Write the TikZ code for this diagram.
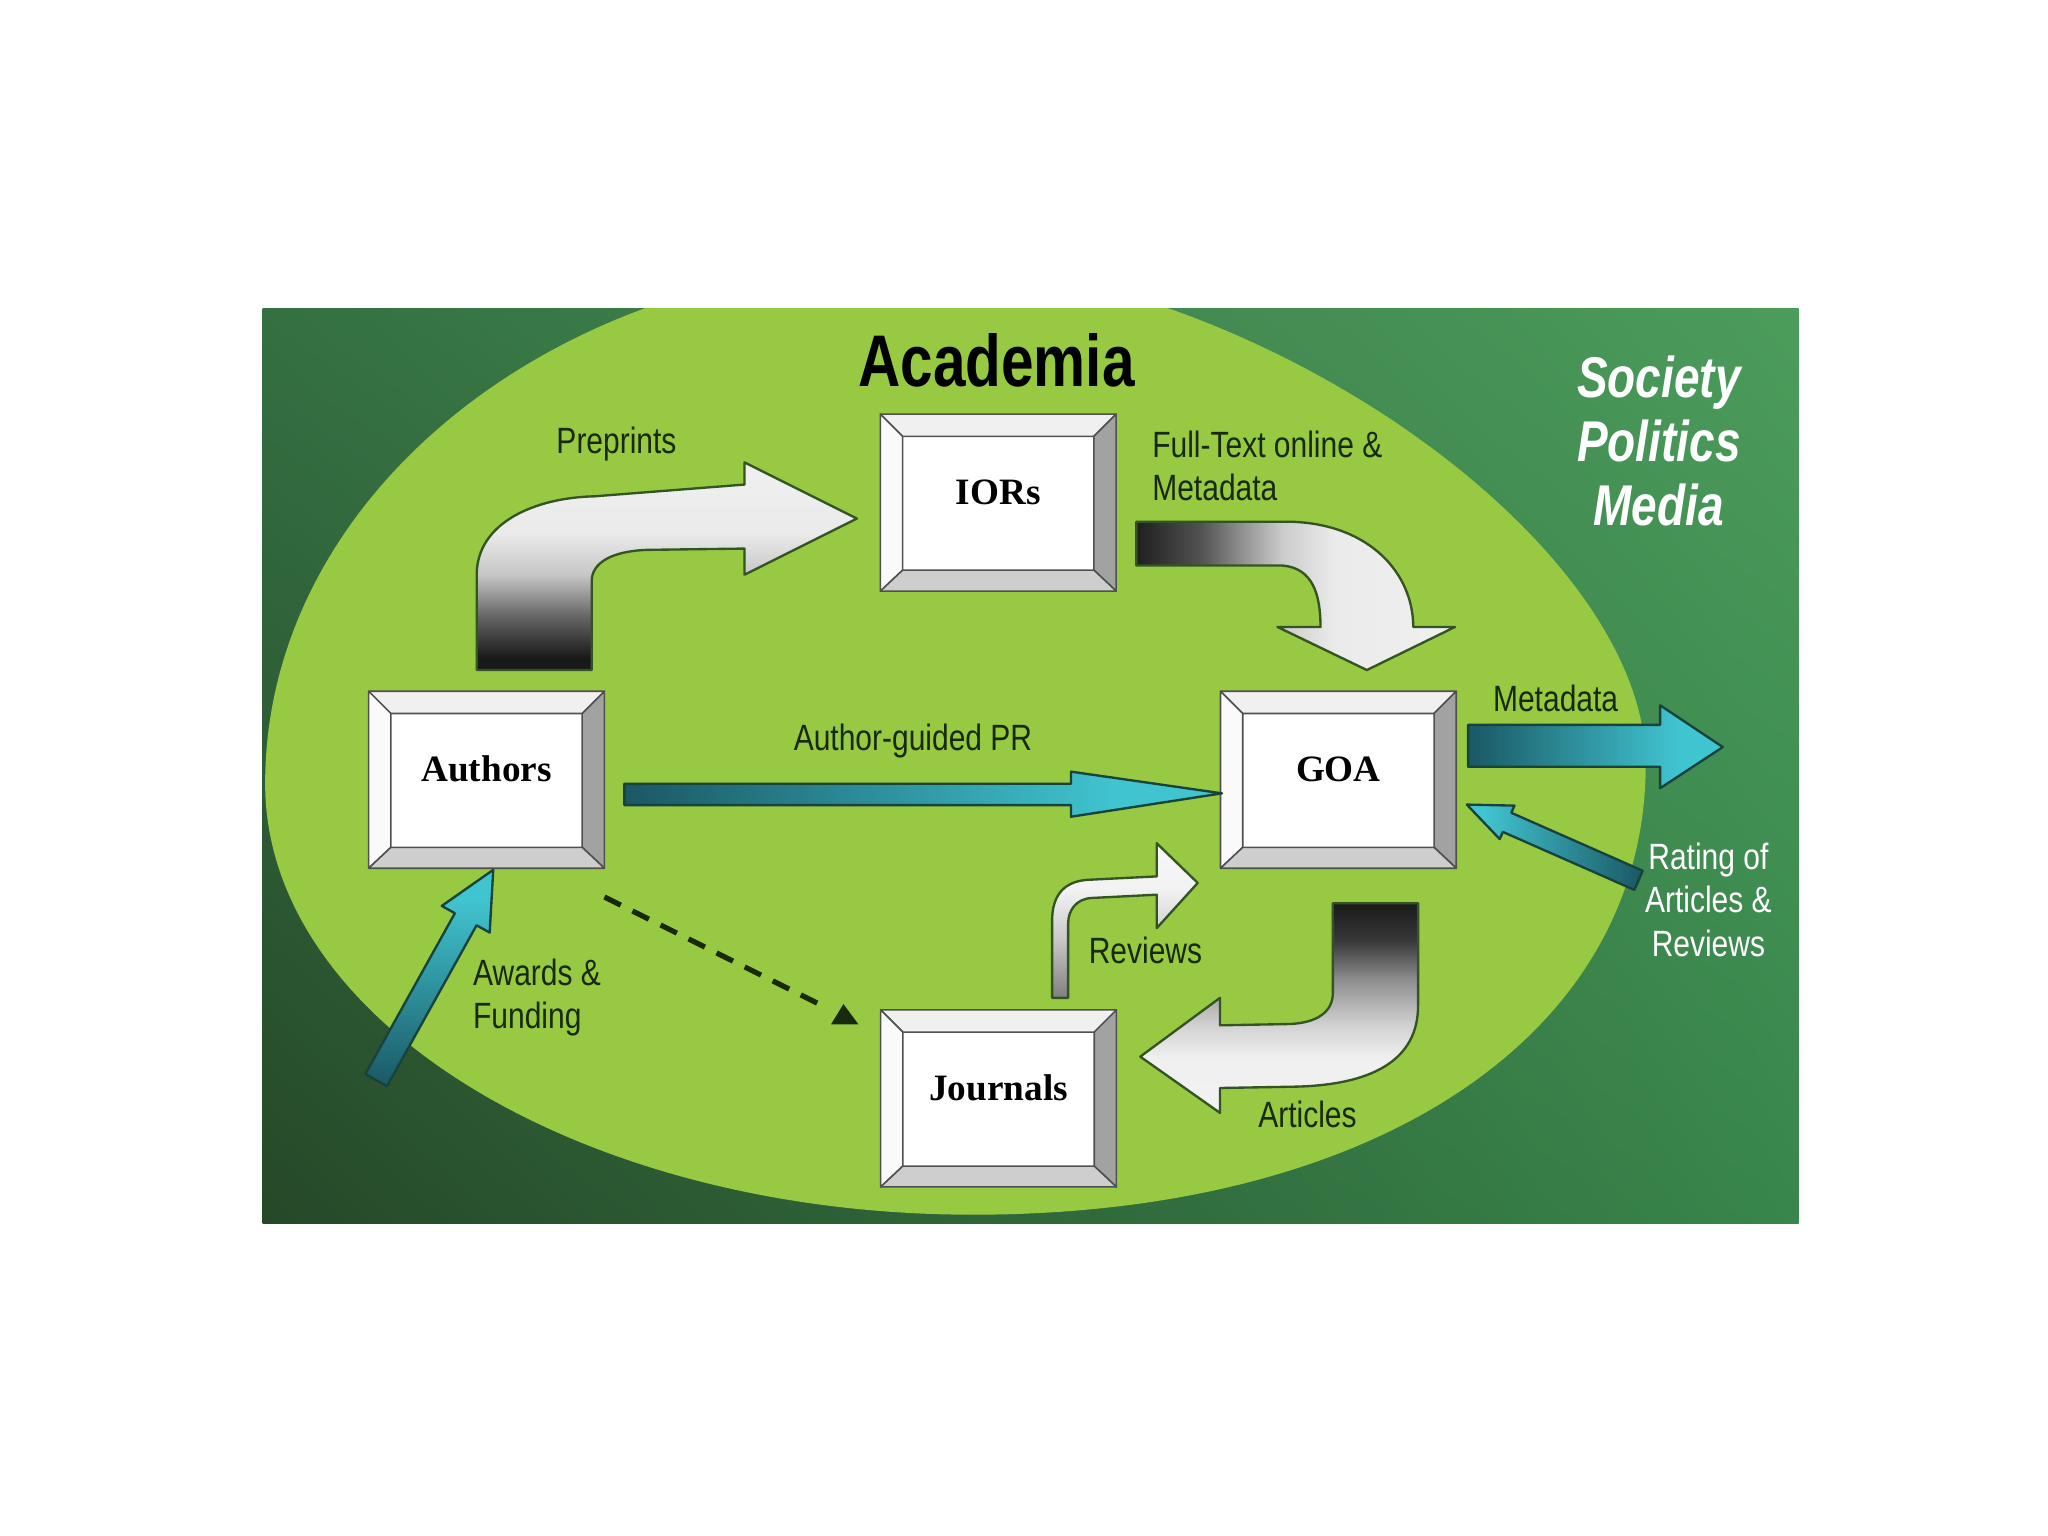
\documentclass[tikz,border=0pt]{standalone}
\usepackage{fontspec}
\setmainfont{Liberation Serif}
\newfontfamily\lblfont[FakeStretch=0.82]{Liberation Sans}
\newfontfamily\headfont[FakeStretch=0.8]{Liberation Sans}
\usetikzlibrary{calc,shadings}

\definecolor{tealdark}{RGB}{26,88,100}
\definecolor{tealcyan}{RGB}{64,196,208}
\definecolor{leafgreen}{RGB}{152,201,66}
\definecolor{lbltext}{RGB}{24,42,14}
\definecolor{edgegreen}{RGB}{52,84,36}
\definecolor{edgegrey}{RGB}{80,80,80}
\definecolor{bgul}{RGB}{52,112,66}
\definecolor{bgur}{RGB}{76,156,92}
\definecolor{bgll}{RGB}{38,72,40}
\definecolor{bglr}{RGB}{56,134,76}

\pgfdeclarehorizontalshading{tealright}{100bp}{color(0bp)=(tealdark); color(25bp)=(tealdark); color(66bp)=(tealcyan); color(100bp)=(tealcyan)}
\pgfdeclarehorizontalshading{tealleft}{100bp}{color(0bp)=(tealcyan); color(30bp)=(tealcyan); color(75bp)=(tealdark); color(100bp)=(tealdark)}
\pgfdeclareverticalshading{tealup}{100bp}{color(0bp)=(tealdark); color(25bp)=(tealdark); color(68bp)=(tealcyan); color(100bp)=(tealcyan)}
\pgfdeclarehorizontalshading{greyright}{100bp}{color(0bp)=(black!90); color(25bp)=(black!88); color(35bp)=(black!68); color(43bp)=(black!38); color(48bp)=(white!80!black); color(56bp)=(white!92!black); color(100bp)=(white!97!black)}
\pgfdeclareverticalshading{greyup}{100bp}{color(0bp)=(black!90); color(28bp)=(black!90); color(38bp)=(black!60); color(48bp)=(white!78!black); color(58bp)=(white!92!black); color(100bp)=(white!97!black)}
\pgfdeclareverticalshading{greydown}{100bp}{color(0bp)=(white!96!black); color(38bp)=(white!94!black); color(46bp)=(white!82!black); color(57bp)=(black!45); color(66bp)=(black!78); color(75bp)=(black!90); color(100bp)=(black!90)}
\pgfdeclareverticalshading{greysoft}{100bp}{color(0bp)=(black!50); color(25bp)=(black!50); color(45bp)=(white!80!black); color(60bp)=(white!95!black); color(100bp)=(white)}

\tikzset{every picture/.style={line width=0.75pt}}
\tikzset{
  bevelbox/.style={draw=edgegrey, fill=white, minimum width=89.5pt, minimum height=67pt, inner sep=0pt,
    font=\bfseries\fontsize{14.25}{16}\selectfont, text height=5pt, text depth=3.6pt},
  bevelfacet/.style={draw=edgegrey, line width=0.6pt, line join=round},
  greyarrow/.style={draw=edgegreen, line width=0.9pt, line join=round},
  tealarrow/.style={draw={rgb,255:red,24;green,66;blue,60}, line width=0.9pt, line join=round},
  lbl/.style={font=\lblfont\fontsize{14}{16.5}\selectfont, text=lbltext, inner sep=0.75pt},
  lblwhite/.style={font=\lblfont\fontsize{14}{16.5}\selectfont, text=white, inner sep=0.75pt},
  dashlink/.style={draw=lbltext, line width=2pt, dash pattern=on 7pt off 5pt}
}

\newcommand{\bevel}[1]{%
  \coordinate (#1-i1) at ($(#1.north west)+(17,17)$);
  \coordinate (#1-i2) at ($(#1.north east)+(-17,17)$);
  \coordinate (#1-i3) at ($(#1.south east)+(-17,-16)$);
  \coordinate (#1-i4) at ($(#1.south west)+(17,-16)$);
  \filldraw[bevelfacet, fill={rgb,255:red,240;green,240;blue,240}] (#1.north west) -- (#1.north east) -- (#1-i2) -- (#1-i1) -- cycle;
  \filldraw[bevelfacet, fill={rgb,255:red,250;green,250;blue,250}] (#1.north west) -- (#1-i1) -- (#1-i4) -- (#1.south west) -- cycle;
  \filldraw[bevelfacet, fill={rgb,255:red,162;green,162;blue,162}] (#1.north east) -- (#1.south east) -- (#1-i3) -- (#1-i2) -- cycle;
  \filldraw[bevelfacet, fill={rgb,255:red,206;green,206;blue,206}] (#1.south west) -- (#1-i4) -- (#1-i3) -- (#1.south east) -- cycle;
}

\begin{document}
\begin{tikzpicture}[x=0.5pt,y=0.5pt,yscale=-1,xscale=1]
\useasboundingbox (0,0) rectangle (1568,1176);
\fill[white] (0,0) rectangle (1568,1176);

%Shape: Rectangle [society]
\shade[upper left=bgul, upper right=bgur, lower left=bgll, lower right=bglr] (201,236) rectangle (1377,937);
%Shape: Oval [academia]
\begin{scope}
\clip (201,236) rectangle (1377,937);
\fill[leafgreen] (700,200) .. controls (952,200) and (1260,411.75) .. (1260,585) .. controls (1260,792) and (1054,930) .. (745,930) .. controls (445.8,930) and (203,782.2) .. (203,600) .. controls (203,379.2) and (425.7,200) .. (700,200) -- cycle;
\end{scope}

% Boxes
\node[bevelbox] (iors) at (764.3,384.8) {IORs};
\node[bevelbox] (authors) at (372.5,597) {Authors};
\node[bevelbox] (goa) at (1024.7,597) {GOA};
\node[bevelbox] (journals) at (764.5,841) {Journals};
\bevel{iors}
\bevel{authors}
\bevel{goa}
\bevel{journals}

%Bent Arrow [preprints]
\shadedraw[greyarrow, shading=greyup] (365,513) -- (365,440) .. controls (365,400) and (410,381) .. (455,380) -- (570,371) -- (570,354) -- (656,397) -- (570,440) -- (570,420) -- (495,421) .. controls (470,422) and (453,430) .. (453,445) -- (453,513) -- cycle;
%Bent Arrow [full text]
\shadedraw[greyarrow, shading=greyright] (870,399.5) -- (990,399.5) .. controls (1050,402) and (1082,440) .. (1082,480) -- (1114,480) -- (1046.5,513) -- (978,480) -- (1011,480) .. controls (1011,455) and (1005,435) .. (982,433) -- (870,433) -- cycle;
%Bent Arrow [articles]
\shadedraw[greyarrow, shading=greydown] (1020.5,691.5) -- (1085.7,691.5) -- (1085.7,770) .. controls (1085.7,812) and (1050,831) .. (990,832) -- (934,833) -- (934,852) -- (873,809) -- (934,764) -- (934,785) -- (988,784) .. controls (1008,783) and (1020.5,775) .. (1020.5,760) -- cycle;
%Bent Arrow [reviews]
\shadedraw[greyarrow, shading=greysoft] (805.5,764) -- (805.5,705) .. controls (805.5,685) and (815,674) .. (835,673.5) -- (885.6,671) -- (885.6,645.6) -- (917,676) -- (885.6,710.6) -- (885.6,685) -- (836,687.5) .. controls (824,688) and (817.8,697) .. (817.8,707) -- (817.8,764) -- cycle;

%Straight Arrow [author-guided]
\shadedraw[tealarrow, shading=tealright] (478,600) -- (820,600) -- (820,590.8) -- (935.6,607.4) -- (820,625.3) -- (820,616.4) -- (478,616.4) -- cycle;
%Straight Arrow [metadata out]
\shadedraw[tealarrow, shading=tealright] (1124,555) -- (1271,555) -- (1271,540) -- (1319,572) -- (1271,603.5) -- (1271,587) -- (1124,587) -- cycle;
%Straight Arrow [rating]
\begin{scope}[shift={(1254.5,674)}, rotate=203.8]
\shadedraw[tealarrow, shading=tealleft] (0,-8) -- (110,-8) -- (110,-14) -- (143.7,0) -- (110,14) -- (110,8) -- (0,8) -- cycle;
\end{scope}
%Straight Arrow [awards]
\begin{scope}[shift={(288,827)}, rotate=-60.9]
\shadedraw[tealarrow, shading=tealup] (0,-9.5) -- (141,-9.5) -- (141,-21) -- (184.3,0) -- (141,21) -- (141,9.5) -- (0,9.5) -- cycle;
\end{scope}

%Dashed Lines [authors to journals]
\coordinate (dashend) at ($(journals.north west)+(-40,-1)$);
\draw[dashlink] ($(authors.south east)+(0,22)$) -- (dashend);
\fill[lbltext] ($(dashend)+(2,12)$) -- ++(21,0) -- ++(-11.5,-15.5) -- cycle;

% Text Node
\draw (763,276) node (academia) [font=\headfont\bfseries\fontsize{28}{30}\selectfont, text=black] {Academia};
% Text Node
\draw (1270,338) node (society) [font=\headfont\bfseries\itshape\fontsize{22}{24.5}\selectfont, text=white, align=center] {Society\\Politics\\Media};
% Text Node
\draw (472,340) node (lblpre) [lbl] {Preprints};
% Text Node
\draw (880,356.5) node (lblfull) [lbl, anchor=west, align=left] {Full-Text online \&\\Metadata};
% Text Node
\draw (1191,535) node (lblmeta) [lbl] {Metadata};
% Text Node
\draw (699,567) node (lblpr) [lbl] {Author-guided PR};
% Text Node
\draw (360,763.5) node (lblawards) [lbl, anchor=west, align=left] {Awards \&\\Funding};
% Text Node
\draw (877,728) node (lblrev) [lbl] {Reviews};
% Text Node
\draw (1001,853) node (lblart) [lbl] {Articles};
% Text Node
\draw (1308,689) node (lblrating) [lblwhite, align=center] {Rating of\\Articles \&\\Reviews};
\end{tikzpicture}
\end{document}
